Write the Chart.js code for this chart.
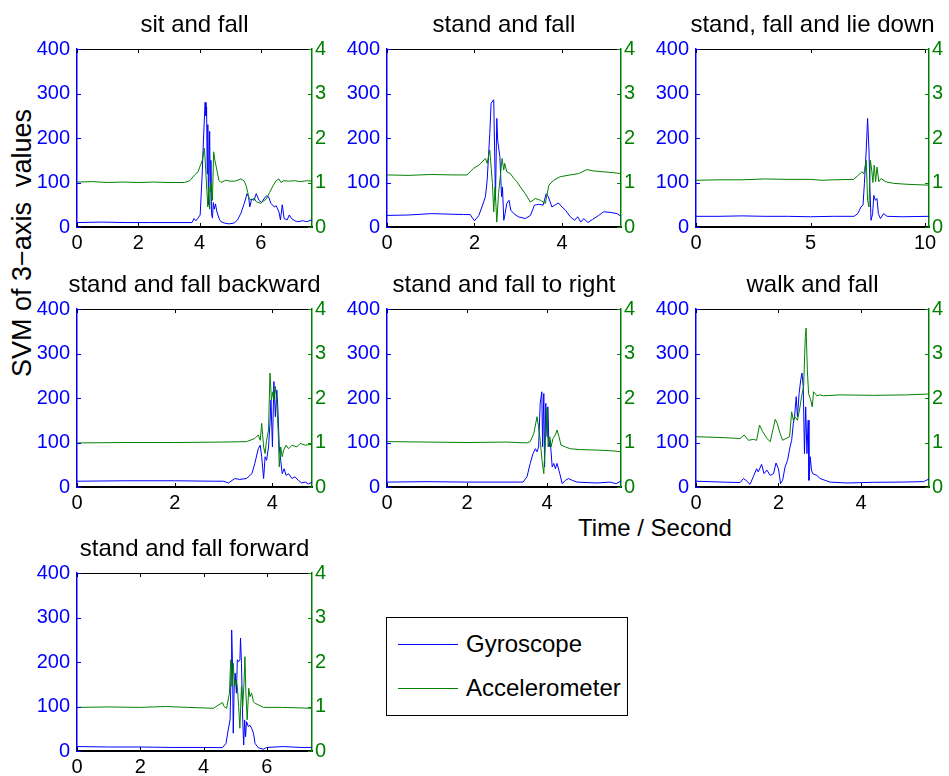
<!DOCTYPE html>
<html>
<head>
<meta charset="utf-8">
<title>SVM of 3-axis values</title>
<script src="https://cdn.jsdelivr.net/npm/chart.js@4.4.1/dist/chart.umd.min.js"></script>
<style>
  html, body { margin: 0; padding: 0; background: #fff; }
  body {
    width: 949px; height: 776px; position: relative; overflow: hidden;
    font-family: "Liberation Sans", Arial, sans-serif; color: #000;
  }
  canvas { position: absolute; }
  .label { position: absolute; font-size: 24px; line-height: 28px; white-space: pre; }
  #xlabel { left: 655px; top: 514px; transform: translateX(-50%); }
  #ylabel { left: 22px; top: 243px; font-size: 27px; transform: translate(-50%, -50%) rotate(-90deg); }
  #legend {
    position: absolute; left: 386px; top: 617px; width: 242px; height: 99px;
    border: 1px solid #000; box-sizing: border-box; background: #fff;
  }
  #legend .swatch { position: absolute; left: 11px; width: 60px; height: 1px; }
  #legend .txt { position: absolute; left: 79px; font-size: 24px; line-height: 28px; white-space: pre; }
</style>
</head>
<body>
<div class="label" id="ylabel">SVM of 3−axis  values</div>
<div class="label" id="xlabel">Time / Second</div>
<div id="legend">
  <span class="swatch" style="top:26px;background:#0000ff"></span>
  <span class="txt" style="top:12px">Gyroscope</span>
  <span class="swatch" style="top:70px;background:#008000"></span>
  <span class="txt" style="top:56px">Accelerometer</span>
</div>
<script>
const GYRO_COLOR = "#0000ff";
const ACC_COLOR = "#008000";

// tick labels shared by every panel
const gyroTicks = [0, 100, 200, 300, 400];
const accTicks = [0, 1, 2, 3, 4];

// [time (s), value]
// sit and fall
const sitTicks = [0, 2, 4, 6];
const sitGyro = [[0,10],[0.8,11],[1.6,10],[2.4,10],[3.2,10],[3.75,10],[3.82,19],[3.88,14],[3.95,20],[4.02,27],
  [4.08,110],[4.13,200],[4.18,280],[4.21,250],[4.23,270],[4.25,120],[4.27,230],[4.29,50],[4.33,215],[4.35,80],
  [4.37,150],[4.39,30],[4.42,20],[4.45,55],[4.48,40],[4.52,52],[4.56,36],[4.6,27],[4.65,17],[4.7,12],[4.8,9],
  [4.96,7],[5.13,9],[5.24,16],[5.35,31],[5.46,53],[5.55,75],[5.6,68],[5.64,45],[5.7,63],[5.78,60],[5.85,75],
  [5.94,60],[6.02,55],[6.1,63],[6.18,70],[6.25,68],[6.33,53],[6.44,45],[6.5,48],[6.59,34],[6.64,16],[6.7,50],
  [6.76,19],[6.86,16],[6.93,27],[7.0,19],[7.11,14],[7.2,12],[7.37,14],[7.5,12],[7.67,16]];
const sitAcc = [[0,1.01],[0.5,1.02],[1,1.0],[1.5,1.01],[2,1.0],[2.5,1.01],[3,1.0],[3.5,1.0],[3.68,1.04],[3.84,1.17],
  [3.95,1.24],[4.03,1.39],[4.09,1.5],[4.16,1.77],[4.2,1.3],[4.24,0.8],[4.27,0.45],[4.3,0.9],[4.33,0.4],[4.36,1.0],
  [4.39,0.9],[4.42,0.6],[4.46,1.69],[4.5,1.5],[4.56,1.3],[4.63,1.05],[4.7,1.0],[4.85,1.05],[5.0,1.03],[5.15,1.03],
  [5.35,1.08],[5.45,1.04],[5.52,0.93],[5.57,0.78],[5.62,0.63],[5.7,0.6],[5.78,0.65],[5.85,0.57],[5.99,0.53],
  [6.08,0.58],[6.18,0.63],[6.29,0.78],[6.4,0.93],[6.5,1.04],[6.59,1.08],[6.66,1.0],[6.75,1.04],[6.9,1.03],
  [7.1,1.04],[7.3,1.02],[7.5,1.04],[7.67,1.03]];

// stand and fall
const standTicks = [0, 2, 4];
const standGyro = [[0,26],[0.5,27],[1.0,30],[1.4,29],[1.75,28],[1.9,28],[2.0,14],[2.1,26],[2.17,45],[2.25,68],
  [2.29,105],[2.35,210],[2.38,278],[2.44,286],[2.46,173],[2.48,60],[2.51,244],[2.53,195],[2.58,158],[2.62,68],
  [2.64,90],[2.67,15],[2.7,30],[2.74,53],[2.79,60],[2.83,38],[2.9,30],[3.0,23],[3.16,19],[3.28,26],[3.37,49],
  [3.47,51],[3.57,49],[3.64,75],[3.69,68],[3.77,45],[3.85,50],[3.92,54],[4.0,45],[4.08,38],[4.19,23],[4.29,15],
  [4.36,23],[4.43,11],[4.5,19],[4.59,10],[4.7,17],[4.84,26],[4.95,34],[5.1,33],[5.26,30],[5.35,24]];
const standAcc = [[0,1.17],[0.5,1.16],[1.0,1.18],[1.5,1.17],[1.83,1.17],[1.98,1.32],[2.1,1.39],[2.25,1.54],
  [2.29,1.43],[2.35,1.73],[2.38,1.35],[2.41,0.98],[2.44,0.34],[2.47,0.9],[2.51,0.11],[2.55,0.75],[2.59,1.13],
  [2.63,1.54],[2.67,1.28],[2.69,1.43],[2.74,1.24],[2.82,1.2],[2.9,1.09],[2.97,1.02],[3.05,0.9],[3.16,0.75],
  [3.28,0.56],[3.39,0.64],[3.51,0.6],[3.62,0.53],[3.7,0.94],[3.81,1.05],[3.96,1.13],[4.19,1.17],[4.38,1.2],
  [4.57,1.29],[4.72,1.26],[4.95,1.24],[5.18,1.22],[5.35,1.2]];

// stand, fall and lie down
const lieTicks = [0, 5, 10];
const lieGyro = [[0,24],[1,24],[2,25],[3,24],[4,24],[5,23],[6,24],[6.9,24],[7.06,30],[7.2,45],[7.29,49],[7.35,98],
  [7.43,173],[7.49,244],[7.55,173],[7.59,90],[7.64,15],[7.71,30],[7.76,71],[7.83,60],[7.9,64],[7.96,30],[8.05,19],
  [8.19,30],[8.34,24],[9,23],[10.17,24]];
const lieAcc = [[0,1.05],[1,1.06],[2,1.06],[3,1.08],[4,1.07],[5,1.07],[5.5,1.05],[6,1.06],[6.88,1.07],[7.1,1.17],
  [7.24,1.24],[7.33,1.2],[7.43,1.5],[7.49,0.6],[7.55,0.45],[7.61,1.5],[7.67,1.28],[7.72,1.0],[7.78,1.39],[7.84,1.02],
  [7.9,1.35],[7.98,1.02],[8.08,1.09],[8.27,1.02],[8.63,0.98],[9.21,0.96],[10.17,0.94]];

// stand and fall backward
const backTicks = [0, 2, 4];
const backGyro = [[0,13],[1,14],[2,14],[2.8,13],[3.0,13],[3.1,9],[3.23,19],[3.33,17],[3.47,19],[3.58,30],[3.64,53],
  [3.71,86],[3.75,94],[3.78,68],[3.82,19],[3.85,68],[3.88,60],[3.92,90],[3.95,143],[3.97,196],[4.0,90],[4.03,237],
  [4.06,158],[4.09,218],[4.11,180],[4.14,90],[4.17,60],[4.2,30],[4.24,41],[4.28,26],[4.33,30],[4.4,19],[4.46,23],
  [4.53,15],[4.6,9],[4.67,11],[4.74,7],[4.81,11]];
const backAcc = [[0,0.99],[1,1.0],[2,1.0],[3,1.01],[3.47,1.02],[3.64,1.09],[3.71,1.17],[3.75,1.05],[3.78,1.43],
  [3.82,0.9],[3.85,0.75],[3.88,1.05],[3.92,1.28],[3.95,2.56],[3.98,1.96],[4.01,2.14],[4.03,1.96],[4.06,2.26],
  [4.09,1.88],[4.12,1.2],[4.14,0.45],[4.17,0.9],[4.2,0.68],[4.23,0.83],[4.28,0.94],[4.33,0.86],[4.4,0.94],
  [4.5,0.9],[4.57,0.98],[4.67,0.94],[4.81,0.96]];

// stand and fall to right
const rightTicks = [0, 2, 4];
const rightGyro = [[0,11],[1,12],[2,11],[3,11],[3.4,11],[3.5,23],[3.58,53],[3.65,75],[3.71,86],[3.75,79],[3.79,90],
  [3.83,188],[3.87,214],[3.89,90],[3.92,210],[3.94,45],[3.97,188],[4.0,113],[4.02,180],[4.05,90],[4.08,105],
  [4.13,45],[4.17,53],[4.21,41],[4.25,53],[4.32,30],[4.38,7.5],[4.46,15],[4.54,19],[4.63,15],[4.75,11],[5.25,9],
  [5.58,11],[5.73,7.5],[5.85,13.5]];
const rightAcc = [[0,1.02],[1,1.01],[2,1.0],[3,1.01],[3.5,0.99],[3.58,1.02],[3.67,1.2],[3.75,1.58],[3.79,1.35],
  [3.83,1.05],[3.875,0.6],[3.92,0.3],[3.95,0.9],[4.0,1.77],[4.03,0.9],[4.07,1.13],[4.1,0.9],[4.15,1.09],[4.21,1.17],
  [4.25,1.28],[4.3,1.13],[4.35,0.94],[4.46,0.9],[4.58,0.86],[4.83,0.84],[5.25,0.83],[5.67,0.81],[5.85,0.79]];

// walk and fall
const walkTicks = [0, 2, 4];
const walkGyro = [[0,13],[0.66,11],[1.07,10],[1.15,19],[1.21,15],[1.31,6],[1.39,23],[1.47,41],[1.51,34],[1.59,51],
  [1.65,30],[1.72,38],[1.8,26],[1.88,30],[1.94,54],[2.0,41],[2.05,7.5],[2.1,15],[2.16,45],[2.22,60],[2.28,90],
  [2.32,105],[2.36,143],[2.39,158],[2.43,203],[2.46,158],[2.5,210],[2.54,241],[2.57,256],[2.6,226],[2.63,75],
  [2.66,180],[2.69,75],[2.72,150],[2.74,15],[2.77,68],[2.8,38],[2.83,30],[2.93,26],[3.01,19],[3.13,15],[3.25,11],
  [3.66,9],[4.3,10.5],[4.95,11],[5.52,12],[5.65,18]];
const walkAcc = [[0,1.13],[0.66,1.11],[1.07,1.09],[1.17,1.17],[1.27,1.05],[1.39,1.07],[1.47,1.05],[1.54,1.39],
  [1.62,1.24],[1.72,1.09],[1.8,1.02],[1.88,1.35],[1.92,1.52],[1.97,1.43],[2.04,1.2],[2.1,1.05],[2.18,1.09],
  [2.27,1.13],[2.32,1.69],[2.36,1.5],[2.4,1.58],[2.46,1.5],[2.51,1.73],[2.56,2.03],[2.61,2.26],[2.65,3.38],
  [2.67,3.57],[2.7,2.63],[2.73,2.1],[2.78,1.96],[2.82,1.8],[2.85,2.14],[2.89,2.1],[2.93,2.05],[3.01,2.07],
  [3.09,2.05],[3.5,2.07],[4.3,2.06],[5.11,2.07],[5.65,2.09]];

// stand and fall forward
const fwdTicks = [0, 2, 4, 6];
const fwdGyro = [[0,10],[1,9],[2,9],[3,8],[4,8],[4.6,7.5],[4.71,17],[4.78,47],[4.84,70],[4.87,175],[4.89,272],
  [4.92,182],[4.94,40],[4.97,145],[5.0,175],[5.04,130],[5.07,205],[5.11,201],[5.15,205],[5.17,254],[5.2,197],
  [5.24,70],[5.27,13.5],[5.3,70],[5.33,32],[5.36,66],[5.42,55],[5.47,58],[5.52,51],[5.58,40],[5.63,17],[5.73,7.5],
  [5.89,4],[6.0,8],[6.53,10],[7.05,8],[7.43,8]];
const fwdAcc = [[0,0.98],[1,0.99],[2,0.98],[2.8,1.0],[3.5,0.98],[4.31,0.96],[4.6,1.09],[4.65,1.0],[4.73,0.96],
  [4.82,1.3],[4.86,2.05],[4.9,1.45],[4.94,1.97],[4.98,1.45],[5.03,1.6],[5.07,1.45],[5.11,1.0],[5.15,0.51],[5.2,1.45],
  [5.24,1.0],[5.28,1.52],[5.31,2.12],[5.34,1.3],[5.38,0.7],[5.43,1.41],[5.47,1.22],[5.52,1.3],[5.58,1.11],
  [5.63,1.07],[5.73,1.04],[5.89,0.98],[6.5,0.98],[7.43,0.96]];

// where each panel's plot box sits on the page
const PLOT_H = 178;
const TITLE_H = 42;
const SIDE = 70;
const panels = [
  { title: "sit and fall", left: 77, top: 49, width: 235, ticks: sitTicks, gyro: sitGyro, acc: sitAcc },
  { title: "stand and fall", left: 387, top: 49, width: 234, ticks: standTicks, gyro: standGyro, acc: standAcc },
  { title: "stand, fall and lie down", left: 696, top: 49, width: 233, ticks: lieTicks, gyro: lieGyro, acc: lieAcc },
  { title: "stand and fall backward", left: 77, top: 309, width: 235, ticks: backTicks, gyro: backGyro, acc: backAcc },
  { title: "stand and fall to right", left: 387, top: 309, width: 234, ticks: rightTicks, gyro: rightGyro, acc: rightAcc },
  { title: "walk and fall", left: 696, top: 309, width: 233, ticks: walkTicks, gyro: walkGyro, acc: walkAcc },
  { title: "stand and fall forward", left: 77, top: 573, width: 235, ticks: fwdTicks, gyro: fwdGyro, acc: fwdAcc },
];

Chart.defaults.font.family = "'Liberation Sans', Arial, sans-serif";
Chart.defaults.color = "#000";

// top edge of the box and matlab-style inward tick marks
const boxTicks = {
  id: "boxTicks",
  afterDraw(chart) {
    const { ctx, chartArea: a, scales } = chart;
    const len = 4;
    ctx.save();
    ctx.lineWidth = 1;
    ctx.strokeStyle = "#000";
    ctx.beginPath();
    ctx.moveTo(a.left, a.top + 0.5);
    ctx.lineTo(a.right, a.top + 0.5);
    scales.x.ticks.forEach((t) => {
      const px = Math.round(scales.x.getPixelForValue(t.value)) + 0.5;
      ctx.moveTo(px, a.top);
      ctx.lineTo(px, a.top + len);
      ctx.moveTo(px, a.bottom);
      ctx.lineTo(px, a.bottom - len);
    });
    ctx.stroke();

    ctx.strokeStyle = GYRO_COLOR;
    ctx.beginPath();
    scales.y.ticks.forEach((t) => {
      const py = Math.round(scales.y.getPixelForValue(t.value)) + 0.5;
      ctx.moveTo(a.left, py);
      ctx.lineTo(a.left + len, py);
    });
    ctx.stroke();

    ctx.strokeStyle = ACC_COLOR;
    ctx.beginPath();
    scales.y2.ticks.forEach((t) => {
      const py = Math.round(scales.y2.getPixelForValue(t.value)) + 0.5;
      ctx.moveTo(a.right, py);
      ctx.lineTo(a.right - len, py);
    });
    ctx.stroke();
    ctx.restore();
  },
};

const toXY = (pairs) => pairs.map(([t, v]) => ({ x: t, y: v }));
const fixTicks = (values) => (scale) => {
  scale.ticks = values.map((v) => ({ value: v }));
};

function makePanel(p) {
  const canvas = document.createElement("canvas");
  canvas.width = p.width + SIDE * 2;
  canvas.height = TITLE_H + PLOT_H + 40;
  canvas.style.left = p.left - SIDE + "px";
  canvas.style.top = p.top - TITLE_H + "px";
  document.body.appendChild(canvas);

  const xMax = p.gyro[p.gyro.length - 1][0];

  new Chart(canvas, {
    type: "line",
    data: {
      datasets: [
        {
          label: "Accelerometer",
          data: toXY(p.acc),
          yAxisID: "y2",
          borderColor: ACC_COLOR,
          order: 0,
        },
        {
          label: "Gyroscope",
          data: toXY(p.gyro),
          yAxisID: "y",
          borderColor: GYRO_COLOR,
          order: 1,
        },
      ],
    },
    options: {
      responsive: false,
      animation: false,
      devicePixelRatio: 1,
      layout: { padding: 0 },
      elements: {
        point: { radius: 0 },
        line: { borderWidth: 1, tension: 0, fill: false },
      },
      plugins: {
        legend: { display: false },
        tooltip: { enabled: false },
        title: {
          display: true,
          text: p.title,
          color: "#000",
          font: { size: 24, weight: "normal", lineHeight: "28px" },
          padding: { top: 4, bottom: 10 },
        },
      },
      scales: {
        x: {
          type: "linear",
          min: 0,
          max: xMax,
          afterBuildTicks: fixTicks(p.ticks),
          afterFit: (s) => { s.height = 40; },
          grid: { display: false, drawTicks: false },
          border: { color: "#000", width: 2 },
          ticks: { padding: 4, color: "#000", font: { size: 20 }, maxRotation: 0, autoSkip: false },
        },
        y: {
          position: "left",
          min: 0,
          max: 400,
          afterBuildTicks: fixTicks(gyroTicks),
          afterFit: (s) => { s.width = SIDE; },
          grid: { display: false, drawTicks: false },
          border: { color: GYRO_COLOR, width: 1.5 },
          ticks: { padding: 7, color: GYRO_COLOR, font: { size: 20 } },
        },
        y2: {
          position: "right",
          min: 0,
          max: 4,
          afterBuildTicks: fixTicks(accTicks),
          afterFit: (s) => { s.width = SIDE; },
          grid: { display: false, drawTicks: false },
          border: { color: ACC_COLOR, width: 1.5 },
          ticks: { padding: 3, color: ACC_COLOR, font: { size: 20 } },
        },
      },
    },
    plugins: [boxTicks],
  });
}

panels.forEach(makePanel);
</script>
</body>
</html>
